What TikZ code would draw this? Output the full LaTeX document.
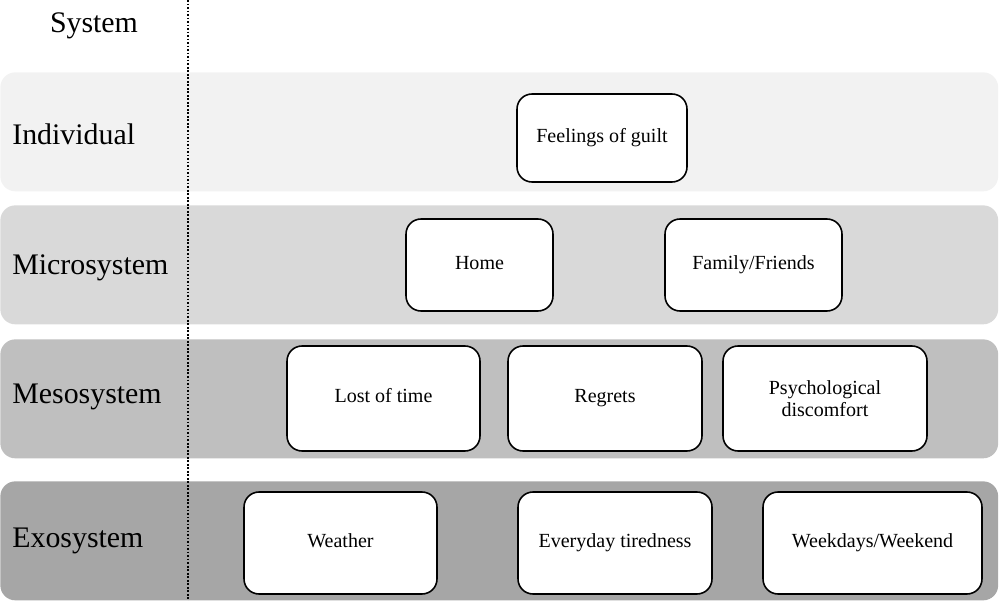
\documentclass[tikz,border=0pt]{standalone}
\usepackage{fontspec}
\setmainfont{Liberation Serif}
\usetikzlibrary{positioning}

\definecolor{indgray}{HTML}{F2F2F2}
\definecolor{micgray}{HTML}{D9D9D9}
\definecolor{mesgray}{HTML}{BFBFBF}
\definecolor{exogray}{HTML}{A6A6A6}

\begin{document}
\begin{tikzpicture}[
    x=0.02cm, y=-0.02cm,
    band/.style ={rectangle, rounded corners=0.3cm, inner sep=0pt,
                  anchor=north west, minimum width=19.96cm, minimum height=2.38cm},
    ind/.style  ={band, fill=indgray},
    mic/.style  ={band, fill=micgray},
    mes/.style  ={band, fill=mesgray},
    exo/.style  ={band, fill=exogray},
    lvl/.style  ={anchor=base west, inner sep=0pt,
                  font=\fontsize{17}{20}\selectfont},
    item/.style ={rectangle, draw=black, line width=0.9pt, fill=white,
                  rounded corners=0.3cm, align=center, inner sep=2pt,
                  text height=1.55ex, text depth=0.45ex,
                  font=\fontsize{11.4}{12.2}\selectfont},
    sep/.style  ={line width=0.7pt, dash pattern=on 1pt off 1pt}
]
\useasboundingbox (0,0) rectangle (1000,601);

%–––– LAYERS ––––––––––––––––––––––––––––––––––––––––
\node (bind) [ind] at (0,72)  {};
\node (bmic) [mic] at (0,205) {};
\node (bmes) [mes] at (0,339) {};
\node (bexo) [exo] at (0,481) {};

%–––– SEPARATOR –––––––––––––––––––––––––––––––––––––
\coordinate (septop) at (188,0);
\coordinate (sepbot) at (188,601);
\draw[sep] (septop) -- (sepbot);

%–––– LEVEL NAMES –––––––––––––––––––––––––––––––––––
\node (lsys) [lvl, anchor=base] at (94,33) {System};
\node (lind) [lvl] at (12,145) {Individual};
\node (lmic) [lvl] at (12,274) {Microsystem};
\node (lmes) [lvl] at (12,403) {Mesosystem};
\node (lexo) [lvl] at (12,547) {Exosystem};

%–––– INDIVIDUAL ––––––––––––––––––––––––––––––––––––
\node (guilt) [item, minimum width=3.4cm, minimum height=1.76cm]
      at (602,138) {Feelings of guilt};

%–––– MICROSYSTEM –––––––––––––––––––––––––––––––––––
\node (home)   [item, minimum width=2.94cm, minimum height=1.84cm]
      at (479.5,265) {Home};
\node (family) [item, minimum width=3.54cm, minimum height=1.84cm]
      at (753.5,265) {Family/Friends};

%–––– MESOSYSTEM ––––––––––––––––––––––––––––––––––––
\node (lost)    [item, minimum width=3.86cm, minimum height=2.1cm]
      at (383.5,398.5) {Lost of time};
\node (regrets) [item, minimum width=3.88cm, minimum height=2.1cm]
      at (605,398.5) {Regrets};
\node (psych)   [item, text height=, text depth=,
                 minimum width=4.08cm, minimum height=2.1cm]
      at (825,398.5) {Psychological\\discomfort};

%–––– EXOSYSTEM –––––––––––––––––––––––––––––––––––––
\node (weather)  [item, minimum width=3.86cm, minimum height=2.04cm]
      at (340.5,543) {Weather};
\node (tired)    [item, minimum width=3.88cm, minimum height=2.04cm]
      at (615,543) {Everyday tiredness};
\node (weekdays) [item, minimum width=4.38cm, minimum height=2.04cm]
      at (872.5,543) {Weekdays/Weekend};
\end{tikzpicture}
\end{document}
